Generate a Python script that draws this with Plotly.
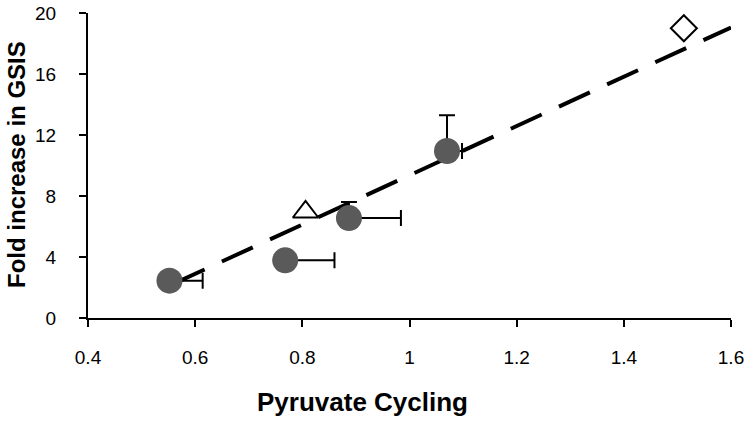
import plotly.graph_objects as go

# Data
circle_x = [0.552, 0.768, 0.887, 1.070]
circle_y = [2.45, 3.78, 6.55, 10.95]
circle_xerr = [0.062, 0.092, 0.097, 0.028]
circle_yerr = [0.0, 0.0, 1.05, 2.35]

triangle_x = [0.806]
triangle_y = [6.95]

diamond_x = [1.512]
diamond_y = [19.0]

trend_x = [0.56, 1.60]
trend_y = [2.25, 19.05]

x_ticks = [0.4, 0.6, 0.8, 1.0, 1.2, 1.4, 1.6]
x_tick_text = ["0.4", "0.6", "0.8", "1", "1.2", "1.4", "1.6"]
y_ticks = [0, 4, 8, 12, 16, 20]

FONT = "Liberation Sans, Arial, sans-serif"

L, R, T, B = 88, 14, 13, 104
PW, PH = 745 - L - R, 422 - T - B

fig = go.Figure()

fig.add_trace(go.Scatter(
    x=trend_x, y=trend_y, mode="lines",
    line=dict(color="black", width=4, dash="34px,19px"),
    hoverinfo="skip", showlegend=False,
))

fig.add_trace(go.Scatter(
    x=circle_x, y=circle_y, mode="markers",
    marker=dict(symbol="circle", size=26, color="#5a5a5a", line=dict(width=0)),
    error_x=dict(type="data", symmetric=False, array=circle_xerr,
                 arrayminus=[0] * len(circle_x), color="black", thickness=2, width=8),
    error_y=dict(type="data", symmetric=False, array=circle_yerr,
                 arrayminus=[0] * len(circle_y), color="black", thickness=2, width=8),
    showlegend=False,
))

fig.add_trace(go.Scatter(
    x=triangle_x, y=triangle_y, mode="markers",
    marker=dict(symbol="triangle-up-open", size=22, color="black", line=dict(width=2)),
    showlegend=False,
))

fig.add_trace(go.Scatter(
    x=diamond_x, y=diamond_y, mode="markers",
    marker=dict(symbol="diamond-open", size=20, color="black", line=dict(width=2)),
    showlegend=False,
))

fig.update_layout(
    width=745, height=422,
    margin=dict(l=L, r=R, t=T, b=B, autoexpand=False),
    plot_bgcolor="white", paper_bgcolor="white",
    font=dict(family=FONT, color="black", size=19),
    xaxis=dict(
        range=[0.4, 1.6], tickvals=x_ticks, ticktext=x_tick_text,
        showgrid=False, zeroline=False, showline=True, linecolor="black", linewidth=2,
        ticks="outside", ticklen=7, tickwidth=2, tickcolor="black",
        ticklabelstandoff=14, automargin=False, ticklabeloverflow="allow",
        tickfont=dict(size=19, family=FONT),
    ),
    yaxis=dict(
        range=[0, 20], tickvals=y_ticks,
        showgrid=False, zeroline=False, showline=True, linecolor="black", linewidth=2,
        ticks="outside", ticklen=7, tickwidth=2, tickcolor="black",
        ticklabelstandoff=19, automargin=False, ticklabeloverflow="allow",
        tickfont=dict(size=19, family=FONT),
    ),
    annotations=[
        dict(
            text="<b>Pyruvate Cycling</b>", xref="paper", yref="paper",
            x=(362 - L) / PW, y=-(402 - (T + PH)) / PH, xanchor="center", yanchor="middle",
            showarrow=False, font=dict(size=26, family=FONT),
        ),
        dict(
            text="<b>Fold increase in GSIS</b>", xref="paper", yref="paper",
            x=(16 - L) / PW, y=1 - (165 - T) / PH, xanchor="center", yanchor="middle",
            textangle=-90, showarrow=False, font=dict(size=24, family=FONT),
        ),
    ],
)

fig.write_html("out.html", config={"displayModeBar": False},
               post_script="document.body.style.margin='0';")
